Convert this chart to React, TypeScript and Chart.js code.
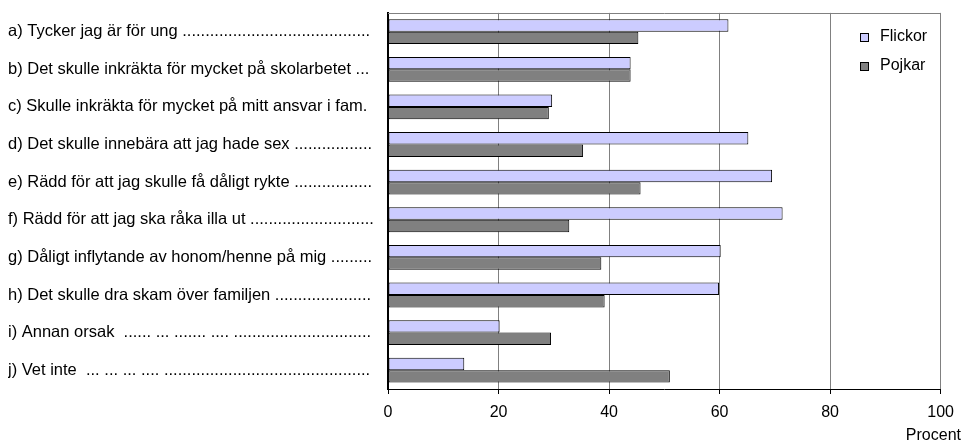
import { useEffect, useRef } from "react";
import { Chart, registerables } from "chart.js";

Chart.register(...registerables);

const categories: string[] = [
  "a) Tycker jag är för ung .........................................",
  "b) Det skulle inkräkta för mycket på skolarbetet ...",
  "c) Skulle inkräkta för mycket på mitt ansvar i fam.",
  "d) Det skulle innebära att jag hade sex .................",
  "e) Rädd för att jag skulle få dåligt rykte .................",
  "f) Rädd för att jag ska råka illa ut ...........................",
  "g) Dåligt inflytande av honom/henne på mig .........",
  "h) Det skulle dra skam över familjen .....................",
  "i) Annan orsak  ...... ... ....... .... ..............................",
  "j) Vet inte  ... ... ... .... .............................................",
];

const seriesNames: string[] = ["Flickor", "Pojkar"];
const flickor: number[] = [61.6, 43.9, 29.7, 65.2, 69.5, 71.4, 60.2, 59.9, 20.2, 13.8];
const pojkar: number[] = [45.3, 43.9, 29.1, 35.3, 45.7, 32.8, 38.6, 39.2, 29.5, 51.0];

const xMin = 0;
const xMax = 100;
const xStep = 20;
const axisTitle = "Procent";

const FONT = "'Liberation Sans', Arial, Helvetica, sans-serif";
const COLORS = ["#CCCCFF", "#808080"];

export default function App() {
  const ref = useRef<HTMLCanvasElement>(null);

  useEffect(() => {
    const canvas = ref.current;
    if (!canvas) return;

    const extras = {
      id: "extras",
      afterDraw(chart: any) {
        const { ctx, chartArea } = chart;
        ctx.save();
        // top frame line
        ctx.strokeStyle = "#808080";
        ctx.lineWidth = 1;
        ctx.beginPath();
        ctx.moveTo(chartArea.left, Math.round(chartArea.top) + 0.5);
        ctx.lineTo(chartArea.right, Math.round(chartArea.top) + 0.5);
        ctx.stroke();

        // legend inside plot area
        ctx.font = `16px ${FONT}`;
        ctx.textBaseline = "middle";
        ctx.textAlign = "left";
        const lx = Math.round(chartArea.right) - 81;
        chart.data.datasets.forEach((ds: any, i: number) => {
          const y = Math.round(chartArea.top) + 24 + i * 29;
          ctx.fillStyle = ds.backgroundColor;
          ctx.fillRect(lx, y - 4, 8, 8);
          ctx.strokeStyle = "#000";
          ctx.lineWidth = 1;
          ctx.strokeRect(lx + 0.5, y - 3.5, 8, 8);
          ctx.fillStyle = "#000";
          ctx.fillText(ds.label, lx + 20, y);
        });

        // axis title
        ctx.textAlign = "right";
        ctx.fillStyle = "#000";
        ctx.fillText(axisTitle, 961, 436);
        ctx.restore();
      },
    };

    const chart = new Chart(canvas, {
      type: "bar",
      data: {
        labels: categories,
        datasets: [
          {
            label: seriesNames[0],
            data: flickor,
            backgroundColor: COLORS[0],
            borderColor: "#000",
            borderWidth: 1,
            borderSkipped: false,
            categoryPercentage: 0.66,
            barPercentage: 1.0,
          },
          {
            label: seriesNames[1],
            data: pojkar,
            backgroundColor: COLORS[1],
            borderColor: "#000",
            borderWidth: 1,
            borderSkipped: false,
            categoryPercentage: 0.66,
            barPercentage: 1.0,
          },
        ],
      },
      options: {
        indexAxis: "y",
        responsive: false,
        animation: false,
        devicePixelRatio: 1,
        layout: { padding: { left: 8, right: 21, top: 12, bottom: 0 } },
        plugins: {
          legend: { display: false },
          tooltip: { enabled: false },
          title: { display: false },
        },
        scales: {
          x: {
            type: "linear",
            min: xMin,
            max: xMax,
            ticks: {
              stepSize: xStep,
              color: "#000",
              padding: 9,
              font: { family: FONT, size: 16 },
            },
            grid: {
              color: (c: any) => (c.tick && c.tick.value === 0 ? "rgba(0,0,0,0)" : "#808080"),
              lineWidth: 1,
              tickColor: "#000",
              tickLength: 5,
              drawTicks: true,
            },
            border: { display: true, color: "#000", width: 1 },
            afterFit: (scale: any) => {
              scale.height = 55;
            },
          },
          y: {
            type: "category",
            ticks: {
              color: "#000",
              crossAlign: "far",
              font: { family: FONT, size: 16.5 },
            },
            grid: { display: false, drawTicks: false },
            border: { display: true, color: "#000", width: 2 },
            afterFit: (scale: any) => {
              scale.width = 380;
            },
          },
        },
      },
      plugins: [extras],
    } as any);

    return () => chart.destroy();
  }, []);

  return (
    <div style={{ position: "fixed", left: 0, top: 0, width: 963, height: 444, background: "#fff" }}>
      <canvas ref={ref} width={963} height={444} style={{ display: "block" }} />
    </div>
  );
}
